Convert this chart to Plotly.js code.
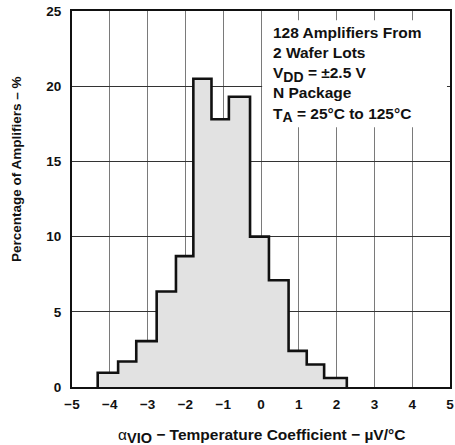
<!DOCTYPE html>
<html>
<head>
<meta charset="utf-8">
<script src="https://cdn.plot.ly/plotly-3.0.1.min.js"></script>
<style>
html,body{margin:0;padding:0;background:#fff;}
#chart{width:455px;height:445px;}
</style>
</head>
<body>
<div id="chart"></div>
<script>
// Bin edges (µV/°C) and bin heights (% of amplifiers)
var binEdges = [-4.32, -3.78, -3.30, -2.76, -2.25, -1.79, -1.31, -0.85, -0.29, 0.21, 0.73, 1.21, 1.67, 2.27];
var binPercent = [0.95, 1.7, 3.05, 6.35, 8.7, 20.5, 17.8, 19.3, 10.0, 7.1, 2.4, 1.5, 0.6];
var xTickVals = [-5, -4, -3, -2, -1, 0, 1, 2, 3, 4, 5];
var yTickVals = [0, 5, 10, 15, 20, 25];
var noteLines = [
  "128 Amplifiers From",
  "2 Wafer Lots",
  "V<sub><span style='font-size:14px'>DD</span></sub> = \u00B12.5 V",
  "N Package",
  "T<sub><span style='font-size:14px'>A</span></sub> = 25\u00B0C to 125\u00B0C"
];

// Build step outline from edges/heights
var sx = [binEdges[0]], sy = [0];
for (var i = 0; i < binPercent.length; i++) { sx.push(binEdges[i]); sy.push(binPercent[i]); }
sx.push(binEdges[binEdges.length - 1]); sy.push(binPercent[binPercent.length - 1]);
sx.push(binEdges[binEdges.length - 1]); sy.push(0);

var FONT = "Liberation Sans, Arial, Helvetica, sans-serif";

var trace = {
  type: "scatter", mode: "lines", x: sx, y: sy,
  line: {shape: "hv", color: "#111", width: 2.6},
  fill: "tozeroy", fillcolor: "#e2e2e2",
  hoverinfo: "skip", showlegend: false
};

var layout = {
  width: 455, height: 445,
  margin: {l: 72, r: 5, t: 11, b: 58},
  paper_bgcolor: "#fff", plot_bgcolor: "#fff",
  showlegend: false,
  xaxis: {
    range: [-5, 5], tickvals: xTickVals, ticks: "",
    showgrid: true, gridcolor: "#7a7a7a", gridwidth: 1,
    zeroline: false, showline: true, linecolor: "#111", linewidth: 2, mirror: true,
    tickfont: {family: FONT, size: 13.5, color: "#111", weight: "bold"},
    ticklabelstandoff: 4
  },
  yaxis: {
    range: [0, 25], tickvals: yTickVals, ticks: "",
    showgrid: true, gridcolor: "#333", gridwidth: 1,
    zeroline: false, showline: true, linecolor: "#111", linewidth: 2, mirror: true,
    tickfont: {family: FONT, size: 13.5, color: "#111", weight: "bold"},
    ticklabelstandoff: 6
  },
  shapes: [{
    type: "rect", xref: "x", yref: "y", x0: 0.03, x1: 4.92, y0: 17.27, y1: 24.38,
    fillcolor: "#fff", line: {width: 0}, layer: "above"
  }],
  annotations: [
    {
      xref: "paper", yref: "paper", x: 0.527, y: 0.972, xanchor: "left", yanchor: "top",
      align: "left", showarrow: false,
      text: noteLines.join("<br>"),
      font: {family: FONT, size: 15.5, color: "#111", weight: "bold"}
    },
    {
      xref: "paper", yref: "paper", x: 0.5, y: -0.13, xanchor: "center", yanchor: "middle",
      showarrow: false,
      text: "<span style='font-weight:normal'>\u03B1</span><sub><span style='font-size:14.5px'>VIO</span></sub> \u2212 Temperature Coefficient \u2212 \u00B5V/\u00B0C",
      font: {family: FONT, size: 15.5, color: "#111", weight: "bold"}
    },
    {
      xref: "paper", yref: "paper", x: -0.145, y: 0.58, xanchor: "center", yanchor: "middle",
      textangle: -90, showarrow: false,
      text: "Percentage of Amplifiers \u2013 %",
      font: {family: FONT, size: 13.5, color: "#111", weight: "bold"}
    }
  ]
};

Plotly.newPlot("chart", [trace], layout, {displayModeBar: false, staticPlot: true});
</script>
</body>
</html>
